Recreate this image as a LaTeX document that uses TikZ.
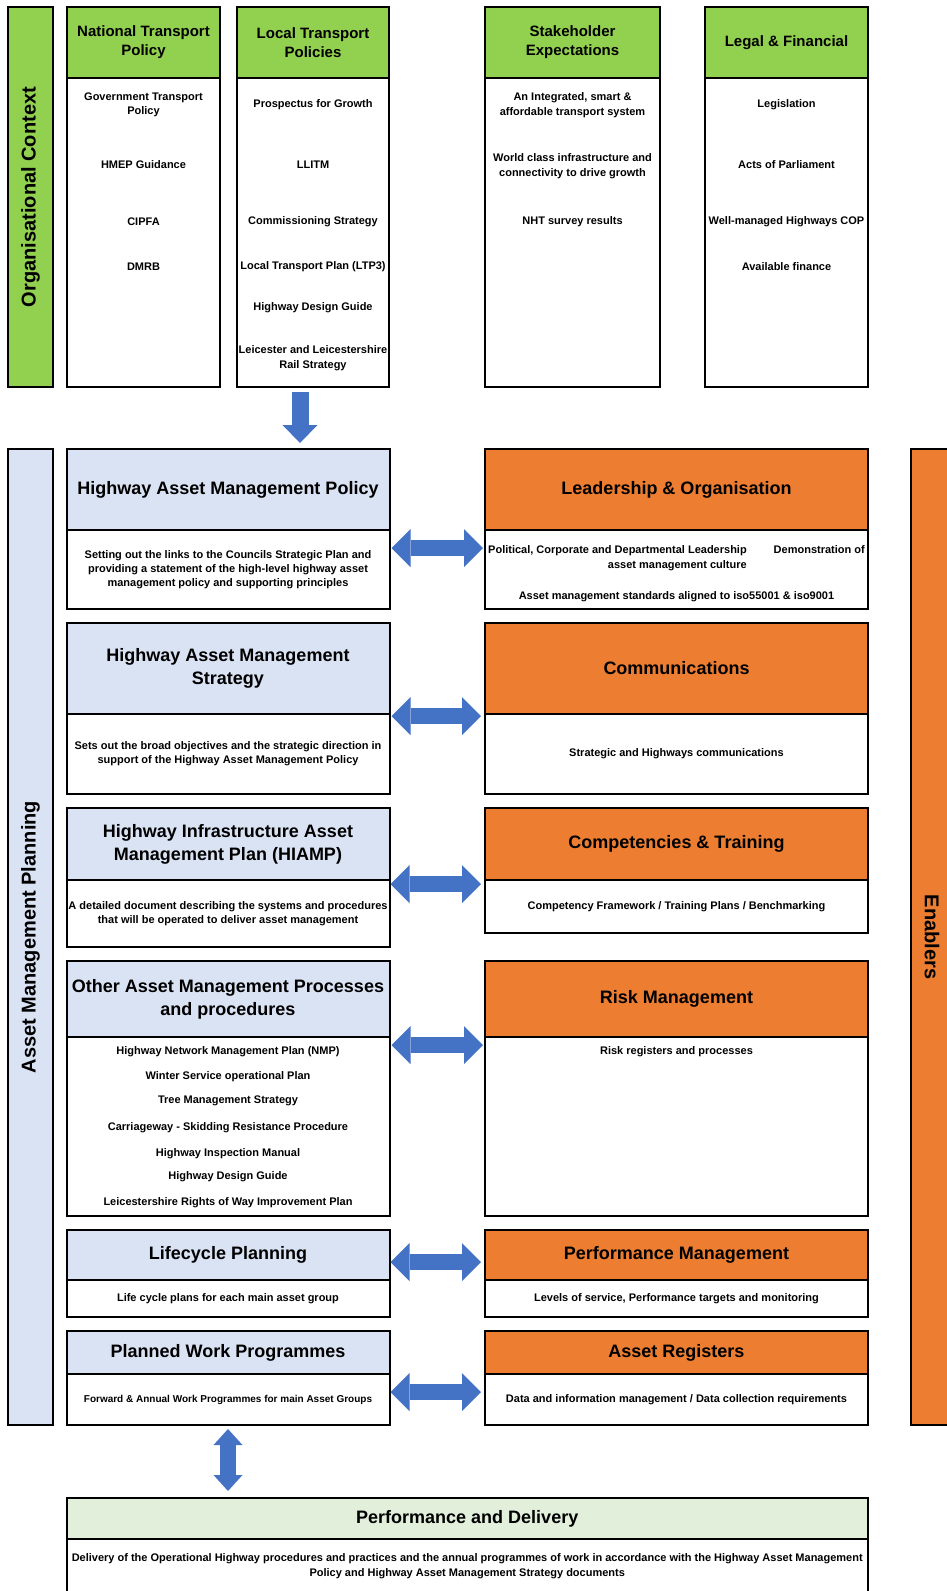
\documentclass[tikz,border=0pt]{standalone}
\usepackage{fontspec}
\setmainfont{Liberation Sans}
\usetikzlibrary{positioning,arrows.meta}

\definecolor{ctxgreen}{HTML}{92D050}
\definecolor{planblue}{HTML}{DAE3F3}
\definecolor{enborange}{HTML}{ED7D31}
\definecolor{delgreen}{HTML}{E2EFDA}
\definecolor{arrblue}{HTML}{4472C4}

\tikzset{
  box/.style={draw, line width=2pt, outer sep=0pt, inner sep=1pt, align=center},
  sidebar/.style={box, font=\bfseries\fontsize{20}{24}\selectfont},
  tophead/.style={box, fill=ctxgreen, minimum height=71pt, font=\bfseries\fontsize{15}{19}\selectfont},
  topbody/.style={box, minimum height=309pt},
  planhead/.style={box, fill=planblue, minimum width=323pt, font=\bfseries\fontsize{18}{23}\selectfont},
  planbody/.style={box, minimum width=323pt, font=\bfseries\fontsize{11}{14}\selectfont},
  enbhead/.style={box, fill=enborange, minimum width=383pt, font=\bfseries\fontsize{18}{23}\selectfont},
  enbbody/.style={box, minimum width=383pt, font=\bfseries\fontsize{11}{14}\selectfont},
  item/.style={inner sep=0pt, align=center, font=\bfseries\fontsize{11}{14.5}\selectfont},
  dblarrow/.style={draw=arrblue, line width=16pt,
    {Triangle[length=19pt,width=38pt,line width=0pt]}-{Triangle[length=19pt,width=38pt,line width=0pt]}},
  downarrow/.style={draw=arrblue, line width=17pt, -{Triangle[length=18pt,width=35pt,line width=0pt]}},
  vdblarrow/.style={draw=arrblue, line width=16pt,
    {Triangle[length=16pt,width=29pt,line width=0pt]}-{Triangle[length=16pt,width=29pt,line width=0pt]}},
}

\begin{document}
\begin{tikzpicture}[x=1pt, y=-1pt]
    \useasboundingbox (0,0) rectangle (947,1591);

    % organisational context
    \node[sidebar, fill=ctxgreen, rotate=90, minimum width=380pt, minimum height=45pt] (orgbar) at (30.5,197) {Organisational Context};

    \node[tophead, minimum width=153pt, anchor=north west] (ntph) at (67,7) {National Transport\\Policy};
    \node[topbody, minimum width=153pt, below=0pt of ntph] (ntpb) {};
    \node[tophead, minimum width=152pt, anchor=north west] (ltph) at (237,7) {Local Transport\\Policies};
    \node[topbody, minimum width=152pt, below=0pt of ltph] (ltpb) {};
    \node[tophead, minimum width=175pt, anchor=north west] (seh) at (485,7) {Stakeholder\\Expectations};
    \node[topbody, minimum width=175pt, below=0pt of seh] (seb) {};
    \node[tophead, minimum width=163pt, anchor=north west] (lfh) at (705,7) {Legal \& Financial};
    \node[topbody, minimum width=163pt, below=0pt of lfh] (lfb) {};

    \node[item] (ntp1) at (143.5,105) {Government Transport\\Policy};
    \node[item] (ntp2) at (143.5,165) {HMEP Guidance};
    \node[item] (ntp3) at (143.5,222) {CIPFA};
    \node[item] (ntp4) at (143.5,267) {DMRB};

    \node[item] (ltp1) at (313,105) {Prospectus for Growth};
    \node[item] (ltp2) at (313,165) {LLITM};
    \node[item] (ltp3) at (313,222) {Commissioning Strategy};
    \node[item] (ltp4) at (313,267) {Local Transport Plan (LTP3)};
    \node[item] (ltp5) at (313,308) {Highway Design Guide};
    \node[item] (ltp6) at (313,358) {Leicester and Leicestershire\\Rail Strategy};

    \node[item] (se1) at (572.5,105) {An Integrated, smart \&\\affordable transport system};
    \node[item] (se2) at (572.5,166) {World class infrastructure and\\connectivity to drive growth};
    \node[item] (se3) at (572.5,222) {NHT survey results};

    \node[item] (lf1) at (786.5,105) {Legislation};
    \node[item] (lf2) at (786.5,165) {Acts of Parliament};
    \node[item] (lf3) at (786.5,222) {Well-managed Highways COP};
    \node[item] (lf4) at (786.5,267) {Available finance};

    % asset management planning and enablers
    \node[sidebar, fill=planblue, rotate=90, minimum width=976pt, minimum height=45pt] (ampbar) at (30.5,937) {Asset Management Planning};
    \node[sidebar, fill=enborange, rotate=-90, minimum width=976pt, minimum height=42pt] (enbbar) at (932,937) {Enablers};

    \node[planhead, minimum height=81pt, anchor=north west] (hamph) at (66.5,449) {Highway Asset Management Policy};
    \node[planbody, minimum height=79pt, below=0pt of hamph] (hampb) {Setting out the links to the Councils Strategic Plan and\\providing a statement of the high-level highway asset\\management policy and supporting principles};
    \node[enbhead, minimum height=81pt, anchor=north west] (leadh) at (485,449) {Leadership \& Organisation};
    \node[enbbody, minimum height=79pt, below=0pt of leadh] (leadb) {};
    \node[item] (lead1) at (676.5,558) {\begin{tabular}{@{}r@{\hspace{27pt}}l@{}}Political, Corporate and Departmental Leadership & Demonstration of\\ asset management culture & \end{tabular}};
    \node[item] (lead2) at (676.5,597) {Asset management standards aligned to iso55001 \& iso9001};

    \node[planhead, minimum height=91pt, anchor=north west] (hamsh) at (66.5,623) {Highway Asset Management\\Strategy};
    \node[planbody, minimum height=80pt, below=0pt of hamsh] (hamsb) {Sets out the broad objectives and the strategic direction in\\support of the Highway Asset Management Policy};
    \node[enbhead, minimum height=91pt, anchor=north west] (commh) at (485,623) {Communications};
    \node[enbbody, minimum height=80pt, below=0pt of commh] (commb) {Strategic and Highways communications};

    \node[planhead, minimum height=72pt, anchor=north west] (hiamph) at (66.5,808) {Highway Infrastructure Asset\\Management Plan (HIAMP)};
    \node[planbody, minimum height=67pt, below=0pt of hiamph] (hiampb) {A detailed document describing the systems and procedures\\that will be operated to deliver asset management};
    \node[enbhead, minimum height=72pt, anchor=north west] (comph) at (485,808) {Competencies \& Training};
    \node[enbbody, minimum height=53pt, below=0pt of comph] (compb) {Competency Framework / Training Plans / Benchmarking};

    \node[planhead, minimum height=76pt, anchor=north west] (otherh) at (66.5,961) {Other Asset Management Processes\\and procedures};
    \node[planbody, minimum height=179pt, below=0pt of otherh] (otherb) {};
    \node[enbhead, minimum height=76pt, anchor=north west] (riskh) at (485,961) {Risk Management};
    \node[enbbody, minimum height=179pt, below=0pt of riskh] (riskb) {};

    \node[item] (oth1) at (228,1052) {Highway Network Management Plan (NMP)};
    \node[item] (oth2) at (228,1077) {Winter Service operational Plan};
    \node[item] (oth3) at (228,1101) {Tree Management Strategy};
    \node[item] (oth4) at (228,1128) {Carriageway - Skidding Resistance Procedure};
    \node[item] (oth5) at (228,1154) {Highway Inspection Manual};
    \node[item] (oth6) at (228,1177) {Highway Design Guide};
    \node[item] (oth7) at (228,1203) {Leicestershire Rights of Way Improvement Plan};
    \node[item] (risk1) at (676.5,1052) {Risk registers and processes};

    \node[planhead, minimum height=50pt, anchor=north west] (lifeh) at (66.5,1230) {Lifecycle Planning};
    \node[planbody, minimum height=37pt, below=0pt of lifeh] (lifeb) {Life cycle plans for each main asset group};
    \node[enbhead, minimum height=50pt, anchor=north west] (perfh) at (485,1230) {Performance Management};
    \node[enbbody, minimum height=37pt, below=0pt of perfh] (perfb) {Levels of service, Performance targets and monitoring};

    \node[planhead, minimum height=43pt, anchor=north west] (pwph) at (66.5,1331) {Planned Work Programmes};
    \node[planbody, minimum height=51pt, below=0pt of pwph, font=\bfseries\fontsize{10}{13}\selectfont] (pwpb) {Forward \& Annual Work Programmes for main Asset Groups};
    \node[enbhead, minimum height=43pt, anchor=north west] (regh) at (485,1331) {Asset Registers};
    \node[enbbody, minimum height=51pt, below=0pt of regh] (regb) {Data and information management / Data collection requirements};

    % performance and delivery
    \node[box, fill=delgreen, minimum width=801.5pt, minimum height=41pt, anchor=north west, font=\bfseries\fontsize{18}{23}\selectfont] (pdh) at (66.5,1498) {Performance and Delivery};
    \node[box, minimum width=801.5pt, minimum height=55pt, below=0pt of pdh, font=\bfseries\fontsize{11}{15}\selectfont] (pdb) {Delivery of the Operational Highway procedures and practices and the annual programmes of work in accordance with the Highway Asset Management\\Policy and Highway Asset Management Strategy documents};

    % arrows
    \draw[downarrow, shorten <=5pt, shorten >=6pt] (ltpb.south -| 300,0) -- (hamph.north -| 300,0);
    \draw[dblarrow, shorten <=2pt, shorten >=2pt] (hamph.south east |- 0,548) -- (leadh.south west |- 0,548);
    \draw[dblarrow, shorten <=2pt, shorten >=4pt] (hamsh.south east |- 0,716) -- (commh.south west |- 0,716);
    \draw[dblarrow, shorten <=1pt, shorten >=4pt] (hiamph.south east |- 0,884) -- (comph.south west |- 0,884);
    \draw[dblarrow, shorten <=2pt, shorten >=2pt] (otherh.south east |- 0,1045) -- (riskh.south west |- 0,1045);
    \draw[dblarrow, shorten <=1pt, shorten >=4pt] (lifeh.south east |- 0,1262) -- (perfh.south west |- 0,1262);
    \draw[dblarrow, shorten <=1pt, shorten >=4pt] (pwph.south east |- 0,1392) -- (regh.south west |- 0,1392);
    \draw[vdblarrow, shorten <=4pt, shorten >=7pt] (pwpb.south -| 228,0) -- (pdh.north -| 228,0);
\end{tikzpicture}
\end{document}
